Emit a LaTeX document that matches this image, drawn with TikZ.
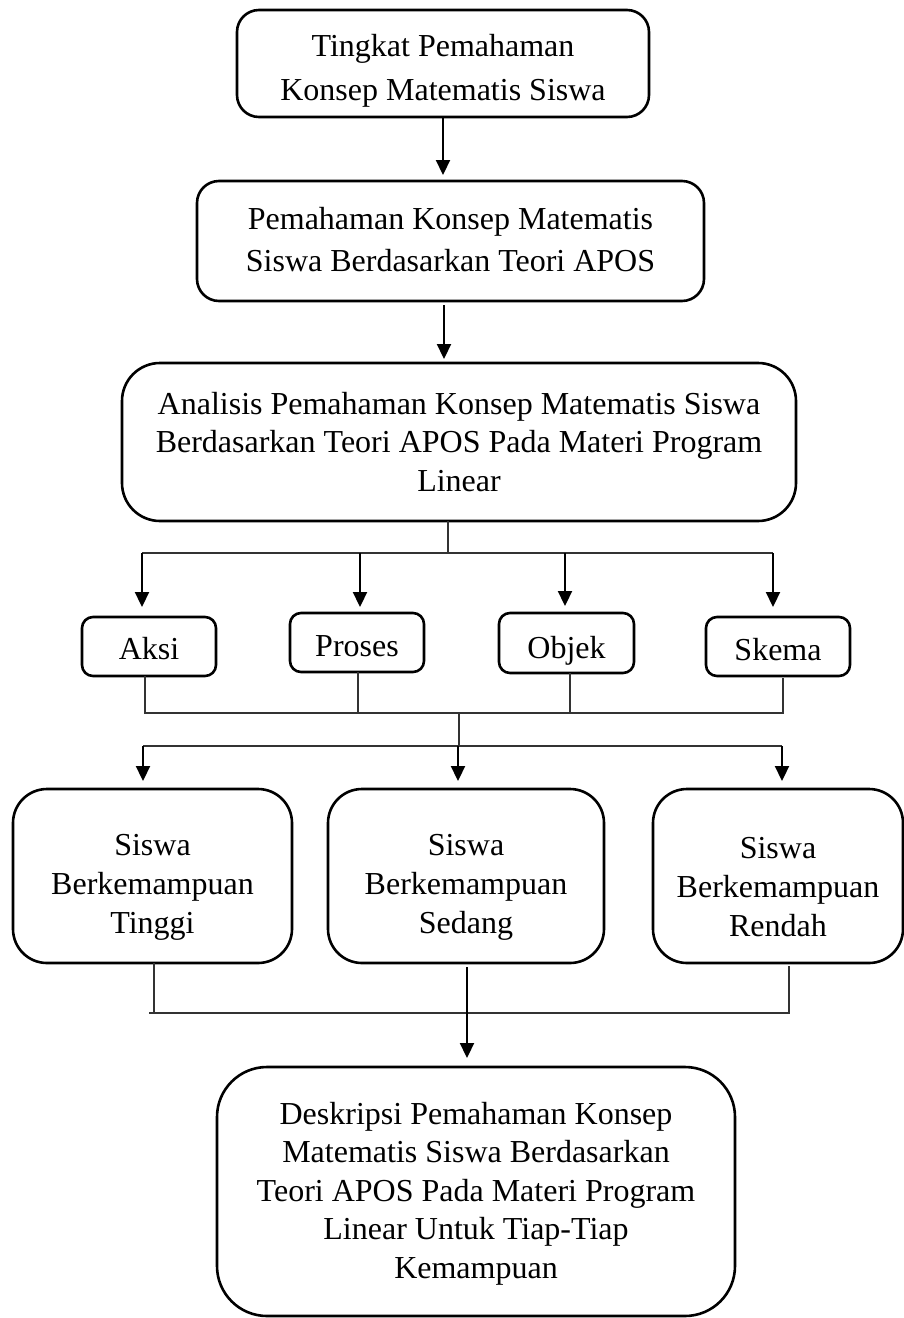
\documentclass[tikz,border=0pt]{standalone}
\usepackage{fontspec}
\setmainfont{Liberation Serif}
\usetikzlibrary{arrows.meta}
\begin{document}
\begin{tikzpicture}[x=1pt,y=-1pt,
  box/.style={draw, line width=2.6pt, inner sep=0pt, outer sep=0pt},
  txt/.style={align=center, inner sep=0pt, font=\fontsize{32}{#1}\selectfont},
  arr/.style={line width=2.2pt, -{Triangle[length=15pt,width=14pt]}},
  thinline/.style={line width=1.3pt, black!80}]
\useasboundingbox (0,0) rectangle (904,1318);

% boxes
\node[box, rounded corners=22pt, minimum width=412pt, minimum height=107pt] (b1) at (443,63.5) {};
\node[box, rounded corners=22pt, minimum width=507pt, minimum height=120pt] (b2) at (450.5,241) {};
\node[box, rounded corners=38pt, minimum width=674pt, minimum height=158pt] (b3) at (459,442) {};
\node[box, rounded corners=11pt, minimum width=134pt, minimum height=59pt] (aksi) at (149,646.5) {};
\node[box, rounded corners=11pt, minimum width=134pt, minimum height=59pt] (proses) at (357,642.5) {};
\node[box, rounded corners=11pt, minimum width=135pt, minimum height=60pt] (obiek) at (566.5,643) {};
\node[box, rounded corners=11pt, minimum width=144pt, minimum height=59pt] (skema) at (778,646.5) {};
\node[box, rounded corners=34pt, minimum width=279pt, minimum height=174pt] (tinggi) at (152.5,876) {};
\node[box, rounded corners=34pt, minimum width=276pt, minimum height=174pt] (sedang) at (466,876) {};
\node[box, rounded corners=34pt, minimum width=250pt, minimum height=174pt] (rendah) at (778,876) {};
\node[box, rounded corners=50pt, minimum width=518pt, minimum height=249pt] (desk) at (476,1191.5) {};

% texts
\node[txt=44] (b1t) at ([yshift=-7pt]b1.center) {Tingkat Pemahaman\\Konsep Matematis Siswa};
\node[txt=42] (b2t) at ([yshift=1pt]b2.center) {Pemahaman Konsep Matematis\\Siswa Berdasarkan Teori APOS};
\node[txt=38.5] (b3t) at (b3.center) {Analisis Pemahaman Konsep Matematis Siswa\\Berdasarkan Teori APOS Pada Materi Program\\Linear};
\node[txt=38] (aksit) at ([yshift=-2pt]aksi.center) {Aksi};
\node[txt=38] (prosest) at ([yshift=-4pt]proses.center) {Proses};
\node[txt=38] (obiekt) at ([yshift=-8pt]obiek.center) {Objek};
\node[txt=38] (skemat) at ([yshift=-3pt]skema.center) {Skema};
\node[txt=39] (tinggit) at ([yshift=-11pt]tinggi.center) {Siswa\\Berkemampuan\\Tinggi};
\node[txt=39] (sedangt) at ([yshift=-11pt]sedang.center) {Siswa\\Berkemampuan\\Sedang};
\node[txt=39] (rendaht) at ([yshift=-11pt]rendah.center) {Siswa\\Berkemampuan\\Rendah};
\node[txt=38.5] (deskt) at ([yshift=-2pt]desk.center) {Deskripsi Pemahaman Konsep\\Matematis Siswa Berdasarkan\\Teori APOS Pada Materi Program\\Linear Untuk Tiap-Tiap\\Kemampuan};

% top arrows
\draw[arr, shorten >=6pt] (b1.south) -- (b1.south |- b2.north);
\draw[arr, shorten <=4pt, shorten >=4pt] ([xshift=-6.5pt]b2.south) -- ([xshift=-6.5pt]b2.south |- b3.north);

% first distribution
\coordinate (j0) at (448,553);
\coordinate (a1) at (142,553);
\coordinate (a2) at (360,553);
\coordinate (a3) at (565,553);
\coordinate (a4) at (773,553);
\draw[thinline] ([xshift=-11pt]b3.south) -- (j0);
\draw[thinline] (a1) -- (a4);
\draw[arr, shorten >=10pt] (a1) -- (a1 |- aksi.north);
\draw[arr, shorten >=6pt] (a2) -- (a2 |- proses.north);
\draw[arr, shorten >=7pt] (a3) -- (a3 |- obiek.north);
\draw[arr, shorten >=10pt] (a4) -- (a4 |- skema.north);

% collection from APOS boxes
\coordinate (k1) at (145,713);
\coordinate (k2) at (358,713);
\coordinate (k3) at (570,713);
\coordinate (k4) at (783,713);
\coordinate (m0) at (459,713);
\coordinate (m1) at (459,746);
\draw[thinline] (k1 |- aksi.south) -- (k1) -- (k4) -- ([yshift=-2pt]k4 |- skema.south);
\draw[thinline] (k2 |- proses.south) -- (k2);
\draw[thinline] (k3 |- obiek.south) -- (k3);
\draw[thinline] (m0) -- (m1);

% second distribution
\coordinate (n1) at (143,746);
\coordinate (n2) at (458,746);
\coordinate (n3) at (782,746);
\draw[thinline] (n1) -- (n3);
\draw[arr, shorten >=8pt] (n1) -- (n1 |- tinggi.north);
\draw[arr, shorten >=8pt] (n2) -- (n2 |- sedang.north);
\draw[arr, shorten >=8pt] (n3) -- (n3 |- rendah.north);

% collection from ability boxes
\coordinate (p0) at (149,1013);
\coordinate (p1) at (154,1013);
\coordinate (p3) at (789,1013);
\draw[thinline] (p1 |- tinggi.south) -- (p1);
\draw[thinline] (p0) -- (p3) -- ([yshift=-3pt]p3 |- rendah.south);
\draw[arr, shorten <=4pt, shorten >=9pt] ([xshift=1pt]sedang.south) -- ([xshift=1pt]sedang.south |- desk.north);
\end{tikzpicture}
\end{document}
